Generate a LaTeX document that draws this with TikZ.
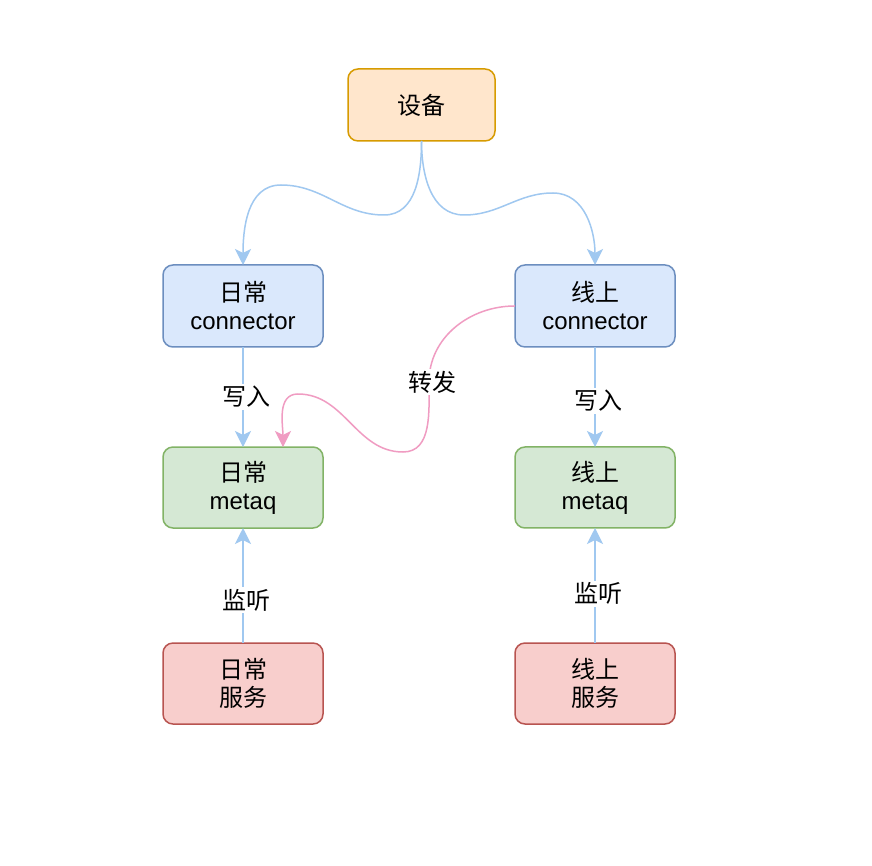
\documentclass[tikz,border=0pt]{standalone}
\usepackage{fontspec}
\setmainfont{Liberation Sans}
\newfontfamily\cjk{Noto Sans CJK SC}
\usepackage{tikz}
\usetikzlibrary{matrix,arrows.meta}

\definecolor{devfill}{HTML}{FFE6CC}
\definecolor{devline}{HTML}{D79B00}
\definecolor{connfill}{HTML}{DAE8FC}
\definecolor{connline}{HTML}{6C8EBF}
\definecolor{mqfill}{HTML}{D5E8D4}
\definecolor{mqline}{HTML}{82B366}
\definecolor{svcfill}{HTML}{F8CECC}
\definecolor{svcline}{HTML}{B85450}
\definecolor{feedline}{HTML}{A0C8F0}
\definecolor{fwdline}{HTML}{F09CC2}

\newcommand\boxfont{\fontsize{24}{28}\selectfont}

\tikzset{
	box/.style={rectangle, rounded corners=10pt, line width=1.5pt, inner sep=4pt, outer sep=0pt,
		minimum width=160pt, minimum height=82pt, text width=150pt, align=center, font=\boxfont},
	dev/.style={box, draw=devline, fill=devfill, minimum width=147pt, minimum height=72pt, text width=137pt},
	conn/.style={box, draw=connline, fill=connfill},
	mq/.style={box, draw=mqline, fill=mqfill, minimum height=81pt},
	svc/.style={box, draw=svcline, fill=svcfill, minimum height=81pt},
	feed/.style={draw=feedline, line width=1.5pt, -{Stealth[length=16pt,width=16pt,inset=4pt]}},
	fwd/.style={draw=fwdline, line width=1.5pt, -{Stealth[length=16pt,width=16pt,inset=4pt]}},
	lbl/.style={fill=white, font=\boxfont\cjk, inner sep=2pt, xshift=3pt}
}

\begin{document}
\begin{tikzpicture}[x=1pt,y=-1pt]
	\fill[white] (0,0) rectangle (872,866);
	\useasboundingbox (0,0) rectangle (872,866);
			\matrix (m) [matrix of nodes,row sep=98.5pt,column sep=18.5pt] at (419,396.5)
			{
				 &[5pt] |[dev]| {\cjk 设备} & \\[24pt]
				|[conn]| {{\cjk 日常}\\connector} & & |[conn]| {{\cjk 线上}\\connector}\\
				|[mq]| {{\cjk 日常}\\metaq} & & |[mq]| {{\cjk 线上}\\metaq}\\[15pt]
				|[svc]| {\cjk 日常\\服务} & & |[svc]| {\cjk 线上\\服务}\\};
			\draw[feed] (m-1-2.south) to[out=-90,in=0] (384,215) to[out=180,in=0] (281,185)
				to[out=180,in=90] (m-2-1.north);
			\draw[feed] (m-1-2.south) to[out=-90,in=180] (464,215) to[out=0,in=180] (553,193)
				to[out=0,in=90] (m-2-3.north);
			\draw[fwd] (m-2-3.west) to[out=180,in=90] (429,382) node[lbl] {转发}
				to[out=-90,in=0] (403,452) to[out=180,in=0] (298,394)
				to[out=180,in=90] ([xshift=40pt]m-3-1.north);
			\path[every edge/.style={feed}]
			(m-2-1) edge node [lbl] {写入} (m-3-1)
			(m-2-3) edge node [lbl,pos=0.54] {写入} (m-3-3)
			(m-4-1) edge node [lbl,pos=0.37] {监听} (m-3-1)
			(m-4-3) edge node [lbl,pos=0.43] {监听} (m-3-3);
		\end{tikzpicture}
\end{document}
